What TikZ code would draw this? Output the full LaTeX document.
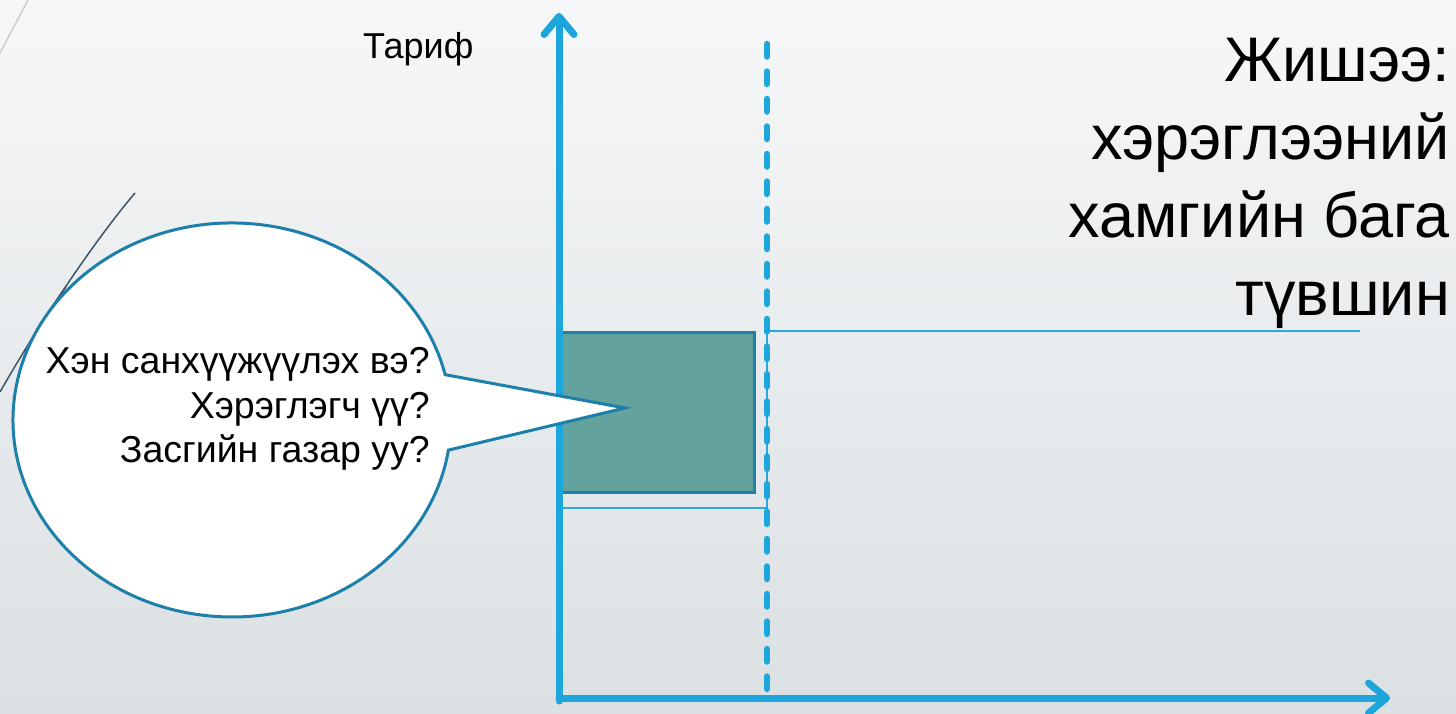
\documentclass[tikz,border=0pt]{standalone}
\usepackage{fontspec}
\setmainfont{Liberation Sans}
\usetikzlibrary{arrows.meta}
\definecolor{axisblue}{HTML}{1CA6DC}
\definecolor{guideblue}{HTML}{2AA8DD}
\definecolor{edgeblue}{HTML}{1C80AA}
\definecolor{tealfill}{HTML}{64A29E}
\definecolor{bgtop}{HTML}{F6F7F8}
\definecolor{bgbot}{HTML}{DBE0E3}
\definecolor{decodark}{HTML}{3D5566}
\definecolor{decolight}{HTML}{C9CFD4}

\begin{document}
\begin{tikzpicture}[x=1pt,y=-1pt,
  axis/.style={draw=axisblue,line width=7pt,line cap=round,
    -{Straight Barb[length=18pt,width=30pt,round]}},
  cutoff/.style={draw=axisblue,line width=6.5pt,line cap=round,
    dash pattern=on 12.5pt off 15pt},
  guide/.style={draw=guideblue,line width=2pt},
  block/.style={fill=tealfill,draw=edgeblue,line width=3pt},
  bubble/.style={fill=white,draw=edgeblue,line width=3pt,line join=miter},
  label/.style={inner sep=0pt,text=black}]
\useasboundingbox (0,0) rectangle (1456,713);
\shade[top color=bgtop,bottom color=bgbot] (0,0) rectangle (1456,713);
% slide decoration
\draw[decolight,line width=1.5pt] (0,53) -- (28,0);
\draw[decodark,line width=1.5pt] (135,193) .. controls (95,240) and (40,322) .. (0,392);
\draw[decodark,line width=1.5pt] (66,287) .. controls (48,312) .. (24,352);

\coordinate (o) at (559,698);
\coordinate (ytop) at (559,13);
\coordinate (xend) at (1390,698);
\coordinate (dtop) at (767,44);
\coordinate (dbot) at (767,700);
\coordinate (tip) at (625,408);

\draw[guide] (1360,331) -- (767,331) -- (767,508) -- (559,508);
\draw[block] (559,332) rectangle (754,492);
\draw[axis] (559,701) -- (ytop);
\draw[axis] (o) -- (xend);
\draw[cutoff] (dtop) -- (dbot);

% speech bubble
\draw[bubble] (tip) -- (448.4,450.1)
  arc[start angle=8.8,end angle=346.7,x radius=219,y radius=197] -- cycle;

\node[label,anchor=north west,font=\fontsize{36}{43}\selectfont] (tarif) at (363,32) {Тариф};
\node[label,anchor=north east,align=right,font=\fontsize{37.5}{44.8}\selectfont] (question) at (430,347)
  {Хэн санхүүжүүлэх вэ?\\Хэрэглэгч үү?\\Засгийн газар уу?};
\node[label,anchor=north east,align=right,font=\fontsize{63}{78}\selectfont] (title) at (1450,38)
  {Жишээ:\\хэрэглээний\\хамгийн бага\\түвшин};
\end{tikzpicture}
\end{document}
